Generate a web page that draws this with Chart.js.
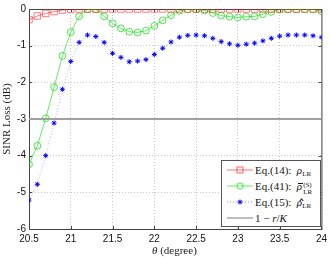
<!DOCTYPE html>
<html lang="en">
  <head>
    <meta charset="UTF-8" />
    <title>SINR Loss</title>
    <style>
      body {
        margin: 0;
        padding: 0;
        background: #fff;
      }
      .wrap {
        position: relative;
        width: 331px;
        height: 259px;
      }
      .legend {
        position: absolute;
        left: 221px;
        top: 160px;
        width: 98px;
        height: 65px;
        border: 1px solid #555;
        background: #fff;
        font-family: "Liberation Serif", "DejaVu Serif", serif;
        font-size: 11px;
        color: #111;
      }
      .row {
        position: absolute;
        left: 0;
        height: 16px;
        line-height: 16px;
        white-space: nowrap;
      }
      .row svg {
        position: absolute;
        left: 4px;
        top: 0;
      }
      .row .txt {
        position: absolute;
        left: 33px;
        top: 0;
      }
      .row sub {
        font-size: 7px;
        vertical-align: -2px;
      }
      .ss {
        display: inline-block;
        vertical-align: -4px;
        line-height: 7px;
        font-size: 7px;
        margin-left: 1px;
      }
      .ss span {
        display: block;
      }
      .acc {
        position: relative;
        display: inline-block;
      }
      .acc .bar {
        position: absolute;
        left: 1.5px;
        top: 5px;
        width: 5px;
        border-top: 1px solid #111;
      }
      .acc .hat {
        position: absolute;
        left: 3px;
        top: 5px;
        width: 2px;
        height: 2px;
        border-left: 1px solid #111;
        border-top: 1px solid #111;
        transform: rotate(45deg);
      }
      .xtitle {
        position: absolute;
        left: 152px;
        top: 244px;
        font-family: "Liberation Serif", "DejaVu Serif", serif;
        font-size: 11px;
        color: #222;
      }
    </style>
  </head>
  <body>
    <div class="wrap">
      <canvas id="lossChart"></canvas>
      <div class="legend">
        <div class="row" style="top: 1px">
          <svg width="28" height="16">
            <line x1="1" y1="8" x2="27" y2="8" stroke="rgba(255,0,0,0.55)" stroke-width="1" />
            <rect x="11" y="5" width="6" height="6" fill="none" stroke="rgba(255,0,0,0.6)" />
          </svg>
          <span class="txt">Eq.(14):&nbsp; <i>ρ</i><sub>LR</sub></span>
        </div>
        <div class="row" style="top: 17px">
          <svg width="28" height="16">
            <line x1="1" y1="8" x2="27" y2="8" stroke="rgba(0,220,0,0.6)" stroke-width="1" />
            <circle cx="14" cy="8" r="3.2" fill="none" stroke="rgba(0,220,0,0.7)" />
          </svg>
          <span class="txt">Eq.(41):&nbsp; <span class="acc"><i>ρ</i><span class="bar"></span></span><span class="ss"><span>(S)</span><span>LR</span></span></span>
        </div>
        <div class="row" style="top: 33px">
          <svg width="28" height="16">
            <line x1="1" y1="8" x2="27" y2="8" stroke="rgba(60,60,255,0.6)" stroke-width="1" stroke-dasharray="1,2" />
            <path d="M14 5.5v5M11.5 8h5M12.3 6.3l3.4 3.4M15.7 6.3l-3.4 3.4" stroke="#0000ff" stroke-width="1" />
          </svg>
          <span class="txt">Eq.(15):&nbsp; <span class="acc"><i>ρ</i><span class="hat"></span></span><sub>LR</sub></span>
        </div>
        <div class="row" style="top: 49px">
          <svg width="28" height="16">
            <line x1="1" y1="8" x2="27" y2="8" stroke="#909090" stroke-width="1.2" />
          </svg>
          <span class="txt">1 − <i>r</i>/<i>K</i></span>
        </div>
      </div>
      <div class="xtitle"><i>θ</i> (degree)</div>
    </div>

    <script src="https://cdn.jsdelivr.net/npm/chart.js"></script>
    <script>
      const theta = [
        20.5, 20.6, 20.7, 20.8, 20.9, 21.0, 21.1, 21.2, 21.3, 21.4, 21.5, 21.6,
        21.7, 21.8, 21.9, 22.0, 22.1, 22.2, 22.3, 22.4, 22.5, 22.6, 22.7, 22.8,
        22.9, 23.0, 23.1, 23.2, 23.3, 23.4, 23.5, 23.6, 23.7, 23.8, 23.9, 24.0,
      ];
      const eq14 = [
        -0.29, -0.19, -0.12, -0.07, -0.03, -0.01, 0, 0, 0, 0, 0, 0,
        0, 0, 0, 0, 0, 0, 0, 0, 0, 0, 0, 0,
        0, 0, 0, 0, 0, 0, 0, 0, 0, 0, 0, 0,
      ];
      const eq41 = [
        -4.24, -3.73, -2.98, -2.13, -1.28, -0.63, -0.2, -0.01, -0.01, -0.2, -0.39, -0.53,
        -0.62, -0.64, -0.59, -0.46, -0.31, -0.17, -0.05, -0.01, -0.01, -0.04, -0.11, -0.18,
        -0.21, -0.23, -0.21, -0.2, -0.14, -0.08, -0.02, -0.01, -0.01, -0.01, -0.01, -0.06,
      ];
      const eq15 = [
        -5.21, -4.78, -4.0, -3.11, -2.19, -1.43, -0.91, -0.71, -0.75, -0.91, -1.21, -1.32,
        -1.44, -1.42, -1.38, -1.24, -1.07, -0.9, -0.77, -0.72, -0.71, -0.73, -0.8, -0.89,
        -0.95, -0.99, -0.96, -0.93, -0.87, -0.8, -0.74, -0.71, -0.71, -0.71, -0.73, -0.77,
      ];
      const limitX = [20.5, 24];
      const limitY = [-3, -3];

      const xTicks = [20.5, 21, 21.5, 22, 22.5, 23, 23.5, 24];
      const yTicks = [0, -1, -2, -3, -4, -5, -6];

      function pts(xs, ys) {
        return ys.map((y, i) => ({ x: xs[i], y: y }));
      }

      // box around the plot area with small inward ticks, like matlab
      const boxPlugin = {
        id: "box",
        beforeDatasetsDraw(chart) {
          const { ctx, chartArea: a, scales } = chart;
          ctx.save();
          ctx.strokeStyle = "#444";
          ctx.lineWidth = 1;
          ctx.strokeRect(a.left + 0.5, a.top + 0.5, a.right - a.left, a.bottom - a.top);
          ctx.beginPath();
          xTicks.forEach((v) => {
            const px = Math.round(scales.x.getPixelForValue(v)) + 0.5;
            ctx.moveTo(px, a.bottom);
            ctx.lineTo(px, a.bottom - 3);
            ctx.moveTo(px, a.top);
            ctx.lineTo(px, a.top + 3);
          });
          yTicks.forEach((v) => {
            const py = Math.round(scales.y.getPixelForValue(v)) + 0.5;
            ctx.moveTo(a.left, py);
            ctx.lineTo(a.left + 3, py);
            ctx.moveTo(a.right, py);
            ctx.lineTo(a.right - 3, py);
          });
          ctx.stroke();
          ctx.restore();
        },
      };

      const ctx = document.getElementById("lossChart").getContext("2d");
      new Chart(ctx, {
        type: "line",
        data: {
          datasets: [
            {
              label: "1 - r/K",
              data: pts(limitX, limitY),
              borderColor: "#a0a0a0",
              borderWidth: 2,
              pointRadius: 0,
            },
            {
              label: "Eq.(14)",
              data: pts(theta, eq14),
              borderColor: "rgba(255,0,0,0.5)",
              borderWidth: 1,
              pointStyle: "rect",
              pointRadius: 4.6,
              pointBorderColor: "rgba(255,40,40,0.6)",
              pointBackgroundColor: "rgba(0,0,0,0)",
              pointBorderWidth: 1,
            },
            {
              label: "Eq.(41)",
              data: pts(theta, eq41),
              borderColor: "rgba(0,220,0,0.6)",
              borderWidth: 1,
              pointStyle: "circle",
              pointRadius: 3.4,
              pointBorderColor: "rgba(0,220,0,0.7)",
              pointBackgroundColor: "rgba(0,0,0,0)",
              pointBorderWidth: 1,
            },
            {
              label: "Eq.(15)",
              data: pts(theta, eq15),
              borderColor: "rgba(110,110,255,0.5)",
              borderWidth: 1,
              borderDash: [1, 2],
              pointStyle: "star",
              pointRadius: 2.5,
              pointBorderColor: "#0000ff",
              pointBackgroundColor: "#0000ff",
              pointBorderWidth: 1,
            },
          ],
        },
        options: {
          responsive: true,
          maintainAspectRatio: false,
          animation: false,
          layout: { padding: { top: 5, right: 8, left: 0, bottom: 0 } },
          plugins: {
            legend: { display: false },
            tooltip: { enabled: false },
          },
          scales: {
            x: {
              type: "linear",
              min: 20.5,
              max: 24,
              afterFit: (scale) => {
                scale.height = 30;
              },
              afterBuildTicks: (scale) => {
                scale.ticks = xTicks.map((v) => ({ value: v }));
              },
              ticks: {
                padding: 4,
                color: "#111",
                font: { family: "Liberation Sans, Arial, sans-serif", size: 10 },
                callback: (v) => String(v),
              },
              grid: {
                color: "#c8c8c8",
                drawTicks: false,
              },
              border: { display: false, dash: [1, 2] },
            },
            y: {
              min: -6,
              max: 0,
              afterFit: (scale) => {
                scale.width = 29;
              },
              afterBuildTicks: (scale) => {
                scale.ticks = yTicks.map((v) => ({ value: v }));
              },
              title: {
                display: true,
                text: "SINR Loss (dB)",
                color: "#222",
                padding: { top: 1, bottom: 0 },
                font: { family: "Liberation Serif, DejaVu Serif, serif", size: 11 },
              },
              ticks: {
                padding: 3,
                color: "#111",
                font: { family: "Liberation Sans, Arial, sans-serif", size: 10 },
                callback: (v) => String(v),
              },
              grid: {
                color: "#c8c8c8",
                drawTicks: false,
              },
              border: { display: false, dash: [1, 2] },
            },
          },
        },
        plugins: [boxPlugin],
      });
    </script>
  </body>
</html>
